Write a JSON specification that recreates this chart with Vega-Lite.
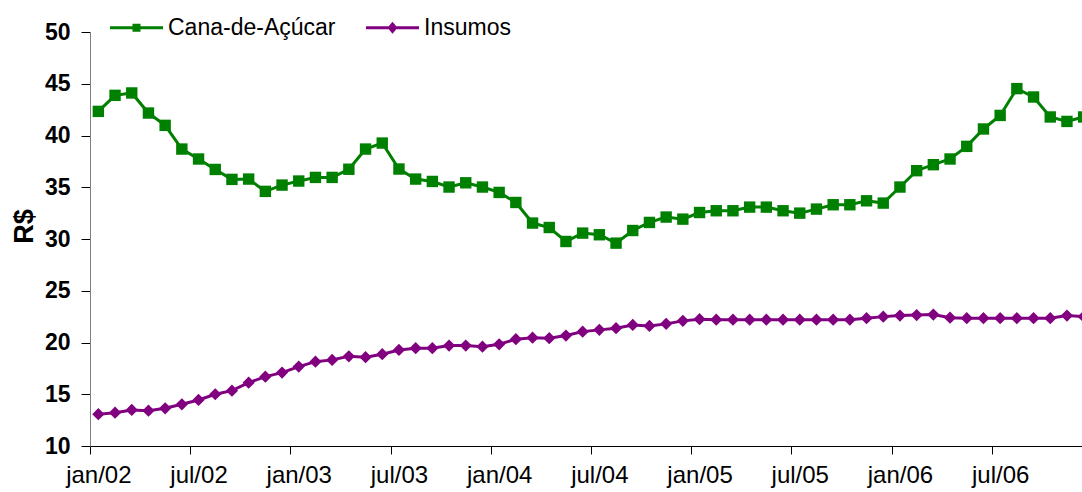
{
  "$schema": "https://vega.github.io/schema/vega-lite/v6.json",
  "width": 1002,
  "height": 414,
  "autosize": "none",
  "padding": {"left": 90, "top": 32, "right": 0, "bottom": 46},
  "background": "white",
  "config": {"view": {"stroke": null}, "font": "Liberation Sans", "axis": {"grid": false}},
  "data": {"values": [
    {"mes": "jan/02", "t": 0, "Cana-de-Açúcar": 42.33, "Insumos": 13.07},
    {"mes": "fev/02", "t": 1, "Cana-de-Açúcar": 43.88, "Insumos": 13.22},
    {"mes": "mar/02", "t": 2, "Cana-de-Açúcar": 44.11, "Insumos": 13.48},
    {"mes": "abr/02", "t": 3, "Cana-de-Açúcar": 42.17, "Insumos": 13.41},
    {"mes": "mai/02", "t": 4, "Cana-de-Açúcar": 40.98, "Insumos": 13.64},
    {"mes": "jun/02", "t": 5, "Cana-de-Açúcar": 38.69, "Insumos": 14.03},
    {"mes": "jul/02", "t": 6, "Cana-de-Açúcar": 37.73, "Insumos": 14.45},
    {"mes": "ago/02", "t": 7, "Cana-de-Açúcar": 36.72, "Insumos": 15.0},
    {"mes": "set/02", "t": 8, "Cana-de-Açúcar": 35.76, "Insumos": 15.35},
    {"mes": "out/02", "t": 9, "Cana-de-Açúcar": 35.79, "Insumos": 16.12},
    {"mes": "nov/02", "t": 10, "Cana-de-Açúcar": 34.6, "Insumos": 16.7},
    {"mes": "dez/02", "t": 11, "Cana-de-Açúcar": 35.21, "Insumos": 17.09},
    {"mes": "jan/03", "t": 12, "Cana-de-Açúcar": 35.6, "Insumos": 17.67},
    {"mes": "fev/03", "t": 13, "Cana-de-Açúcar": 35.95, "Insumos": 18.15},
    {"mes": "mar/03", "t": 14, "Cana-de-Açúcar": 35.95, "Insumos": 18.32},
    {"mes": "abr/03", "t": 15, "Cana-de-Açúcar": 36.74, "Insumos": 18.67},
    {"mes": "mai/03", "t": 16, "Cana-de-Açúcar": 38.69, "Insumos": 18.58},
    {"mes": "jun/03", "t": 17, "Cana-de-Açúcar": 39.27, "Insumos": 18.87},
    {"mes": "jul/03", "t": 18, "Cana-de-Açúcar": 36.76, "Insumos": 19.28},
    {"mes": "ago/03", "t": 19, "Cana-de-Açúcar": 35.79, "Insumos": 19.45},
    {"mes": "set/03", "t": 20, "Cana-de-Açúcar": 35.56, "Insumos": 19.45},
    {"mes": "out/03", "t": 21, "Cana-de-Açúcar": 35.02, "Insumos": 19.7},
    {"mes": "nov/03", "t": 22, "Cana-de-Açúcar": 35.43, "Insumos": 19.7},
    {"mes": "dez/03", "t": 23, "Cana-de-Açúcar": 35.02, "Insumos": 19.6},
    {"mes": "jan/04", "t": 24, "Cana-de-Açúcar": 34.5, "Insumos": 19.83},
    {"mes": "fev/04", "t": 25, "Cana-de-Açúcar": 33.53, "Insumos": 20.32},
    {"mes": "mar/04", "t": 26, "Cana-de-Açúcar": 31.54, "Insumos": 20.47},
    {"mes": "abr/04", "t": 27, "Cana-de-Açúcar": 31.11, "Insumos": 20.42},
    {"mes": "mai/04", "t": 28, "Cana-de-Açúcar": 29.76, "Insumos": 20.67},
    {"mes": "jun/04", "t": 29, "Cana-de-Açúcar": 30.57, "Insumos": 21.05},
    {"mes": "jul/04", "t": 30, "Cana-de-Açúcar": 30.41, "Insumos": 21.22},
    {"mes": "ago/04", "t": 31, "Cana-de-Açúcar": 29.6, "Insumos": 21.38},
    {"mes": "set/04", "t": 32, "Cana-de-Açúcar": 30.82, "Insumos": 21.7},
    {"mes": "out/04", "t": 33, "Cana-de-Açúcar": 31.6, "Insumos": 21.6},
    {"mes": "nov/04", "t": 34, "Cana-de-Açúcar": 32.12, "Insumos": 21.8},
    {"mes": "dez/04", "t": 35, "Cana-de-Açúcar": 31.92, "Insumos": 22.09},
    {"mes": "jan/05", "t": 36, "Cana-de-Açúcar": 32.56, "Insumos": 22.25},
    {"mes": "fev/05", "t": 37, "Cana-de-Açúcar": 32.73, "Insumos": 22.2},
    {"mes": "mar/05", "t": 38, "Cana-de-Açúcar": 32.73, "Insumos": 22.2},
    {"mes": "abr/05", "t": 39, "Cana-de-Açúcar": 33.08, "Insumos": 22.2},
    {"mes": "mai/05", "t": 40, "Cana-de-Açúcar": 33.08, "Insumos": 22.2},
    {"mes": "jun/05", "t": 41, "Cana-de-Açúcar": 32.73, "Insumos": 22.2},
    {"mes": "jul/05", "t": 42, "Cana-de-Açúcar": 32.5, "Insumos": 22.2},
    {"mes": "ago/05", "t": 43, "Cana-de-Açúcar": 32.89, "Insumos": 22.2},
    {"mes": "set/05", "t": 44, "Cana-de-Açúcar": 33.31, "Insumos": 22.2},
    {"mes": "out/05", "t": 45, "Cana-de-Açúcar": 33.31, "Insumos": 22.2},
    {"mes": "nov/05", "t": 46, "Cana-de-Açúcar": 33.69, "Insumos": 22.35},
    {"mes": "dez/05", "t": 47, "Cana-de-Açúcar": 33.47, "Insumos": 22.5},
    {"mes": "jan/06", "t": 48, "Cana-de-Açúcar": 35.02, "Insumos": 22.6},
    {"mes": "fev/06", "t": 49, "Cana-de-Açúcar": 36.6, "Insumos": 22.65},
    {"mes": "mar/06", "t": 50, "Cana-de-Açúcar": 37.18, "Insumos": 22.7},
    {"mes": "abr/06", "t": 51, "Cana-de-Açúcar": 37.73, "Insumos": 22.4},
    {"mes": "mai/06", "t": 52, "Cana-de-Açúcar": 38.95, "Insumos": 22.35},
    {"mes": "jun/06", "t": 53, "Cana-de-Açúcar": 40.63, "Insumos": 22.35},
    {"mes": "jul/06", "t": 54, "Cana-de-Açúcar": 41.94, "Insumos": 22.35},
    {"mes": "ago/06", "t": 55, "Cana-de-Açúcar": 44.53, "Insumos": 22.35},
    {"mes": "set/06", "t": 56, "Cana-de-Açúcar": 43.72, "Insumos": 22.35},
    {"mes": "out/06", "t": 57, "Cana-de-Açúcar": 41.79, "Insumos": 22.35},
    {"mes": "nov/06", "t": 58, "Cana-de-Açúcar": 41.36, "Insumos": 22.6},
    {"mes": "dez/06", "t": 59, "Cana-de-Açúcar": 41.79, "Insumos": 22.5}
  ]},
  "transform": [{"fold": ["Cana-de-Açúcar", "Insumos"], "as": ["serie", "valor"]}],
  "encoding": {
    "x": {
      "field": "t", "type": "quantitative",
      "scale": {"domain": [-0.5, 59.5], "nice": false, "zero": false},
      "axis": {
        "values": [-0.5, 5.5, 11.5, 17.5, 23.5, 29.5, 35.5, 41.5, 47.5, 53.5],
        "labelExpr": "['jan/02','jul/02','jan/03','jul/03','jan/04','jul/04','jan/05','jul/05','jan/06','jul/06'][round((datum.value+0.5)/6)]",
        "labelOffset": 8.35, "title": null, "domainColor": "black", "tickColor": "black",
        "tickSize": 8, "labelFontSize": 24, "labelColor": "black", "labelPadding": 9,
        "labelOverlap": false, "labelFlush": false, "labelBound": false, "grid": false
      }
    },
    "y": {
      "field": "valor", "type": "quantitative",
      "scale": {"domain": [10, 50], "nice": false, "zero": false},
      "axis": {
        "values": [10, 15, 20, 25, 30, 35, 40, 45, 50],
        "title": "R$", "titleFontSize": 27, "titleFontWeight": "bold", "titleColor": "black",
        "titleX": -66, "titleY": 194, "titleAngle": -90, "titleBaseline": "middle",
        "labelFontSize": 23, "labelFontWeight": "bold", "labelColor": "black", "labelPadding": 11,
        "tickSize": 9, "tickColor": "black", "domainColor": "#808080",
        "labelFlush": false, "labelOverlap": false, "grid": false
      }
    }
  },
  "layer": [
    {
      "transform": [{"filter": "datum.serie == 'Cana-de-Açúcar'"}],
      "mark": {"type": "line", "strokeWidth": 3, "color": "#008000"}
    },
    {
      "transform": [{"filter": "datum.serie == 'Insumos'"}],
      "mark": {"type": "line", "strokeWidth": 3, "color": "#800080"}
    },
    {
      "transform": [{"filter": "datum.serie == 'Cana-de-Açúcar'"}],
      "mark": {"type": "point", "shape": "square", "filled": true, "opacity": 1, "size": 130, "color": "#008000"}
    },
    {
      "transform": [{"filter": "datum.serie == 'Insumos'"}],
      "mark": {"type": "point", "shape": "diamond", "filled": true, "opacity": 1, "size": 150, "color": "#800080"}
    },
    {
      "mark": {"type": "point", "filled": true, "opacity": 1, "size": 0},
      "encoding": {
        "color": {
          "field": "serie", "type": "nominal",
          "scale": {"domain": ["Cana-de-Açúcar", "Insumos"], "range": ["#008000", "#800080"]},
          "legend": {
            "title": null, "orient": "none", "legendX": 20, "legendY": -31, "direction": "horizontal",
            "symbolSize": 2809, "symbolStrokeWidth": 0, "symbolOpacity": 1,
            "labelFontSize": 23, "labelFont": "Liberation Sans", "labelColor": "black",
            "labelOffset": 5, "columnPadding": 30, "padding": 0, "labelLimit": 400
          }
        },
        "shape": {
          "field": "serie", "type": "nominal",
          "scale": {
            "domain": ["Cana-de-Açúcar", "Insumos"],
            "range": [
              "M-1,-0.057L1,-0.057L1,0.057L-1,0.057Z M-0.151,-0.151L0.151,-0.151L0.151,0.151L-0.151,0.151Z",
              "M-1,-0.057L1,-0.057L1,0.057L-1,0.057Z M0,-0.23L0.19,0L0,0.23L-0.19,0Z"
            ]
          },
          "legend": {
            "title": null, "orient": "none", "legendX": 20, "legendY": -31, "direction": "horizontal",
            "symbolSize": 2809, "symbolStrokeWidth": 0, "symbolOpacity": 1,
            "labelFontSize": 23, "labelFont": "Liberation Sans", "labelColor": "black",
            "labelOffset": 5, "columnPadding": 30, "padding": 0, "labelLimit": 400
          }
        }
      }
    }
  ]
}
